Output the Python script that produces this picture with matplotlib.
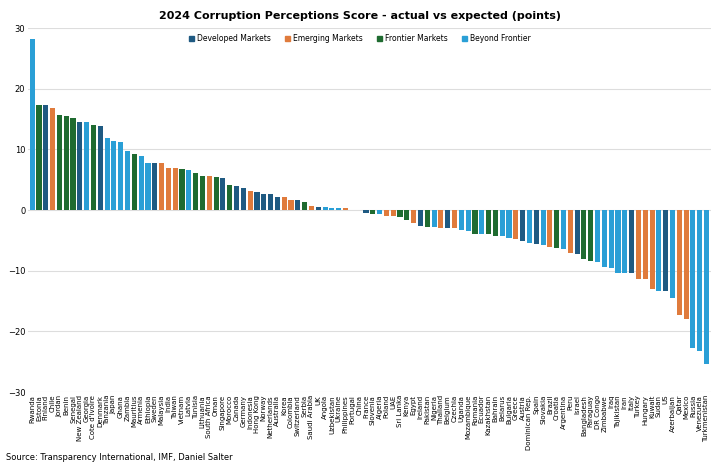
import matplotlib
matplotlib.use("Agg")
import matplotlib.pyplot as plt
from matplotlib.patches import Patch

countries = ["Rwanda","Estonia","Finland","Chile","Jordan","Benin","Senegal","New Zealand","Georgia","Cote d'Ivoire",
 "Denmark","Tanzania","Japan","Ghana","Zambia","Mauritius","Armenia","Ethiopia","Sweden","Malaysia",
 "India","Taiwan","Vietnam","Latvia","Tunisia","Lithuania","South Africa","Oman","Singapore","Morocco",
 "Canada","Germany","Indonesia","Hong Kong","Norway","Netherlands","Australia","Korea","Colombia","Switzerland",
 "Serbia","Saudi Arabia","UK","Angola","Uzbekistan","Ukraine","Philippines","Portugal","China","France",
 "Slovenia","Algeria","Poland","UAE","Sri Lanka","Kenya","Egypt","Ireland","Pakistan","Nigeria",
 "Thailand","Belgium","Czechia","Uganda","Mozambique","Romania","Ecuador","Kazakhstan","Bahrain","Belarus",
 "Bulgaria","Greece","Austria","Dominican Rep.","Spain","Slovakia","Brazil","Croatia","Argentina","Peru",
 "Israel","Bangladesh","Paraguay","DR Congo","Zimbabwe","Iraq","Tajikistan","Iran","Italy","Turkey",
 "Hungary","Kuwait","Sudan","US","Azerbaijan","Qatar","Mexico","Russia","Venezuela","Turkmenistan"]

values = [28.2,17.4,17.3,16.8,15.6,15.5,15.2,14.6,14.5,14.0,
 13.9,11.9,11.4,11.3,9.8,9.3,8.9,7.8,7.8,7.8,
 7.0,6.9,6.8,6.6,6.1,5.7,5.6,5.4,5.3,4.2,
 3.9,3.7,3.2,3.0,2.6,2.6,2.1,2.1,1.7,1.6,
 1.4,0.6,0.5,0.5,0.4,0.3,0.3,0.1,0.05,-0.55,
 -0.65,-0.65,-0.9,-1.0,-1.1,-1.6,-2.2,-2.6,-2.7,-2.7,
 -2.9,-2.9,-3.0,-3.2,-3.5,-3.9,-4.0,-4.0,-4.2,-4.3,
 -4.6,-4.8,-5.1,-5.4,-5.5,-5.8,-6.1,-6.3,-6.4,-7.1,
 -7.3,-8.0,-8.4,-8.6,-9.4,-9.5,-10.3,-10.4,-10.4,-11.3,
 -11.4,-13.0,-13.3,-13.4,-14.5,-17.3,-17.9,-22.7,-23.2,-25.3]

groups = list("BFDEFFFDBFDBBBBFBBDEEEFBFF"
              "EFDFDDEDDDDEEDFEDBBBEEE"
              "DFBEEFFEDFBEDEBBF"
              "BFFBBEDBDBEFBEDFFBB"
              "BBBDEEEBDBEEBBB")

group_names = {"D": "Developed Markets", "E": "Emerging Markets", "F": "Frontier Markets", "B": "Beyond Frontier"}
group_colors = {"D": "#1f5a82", "E": "#e07b3c", "F": "#1f6b30", "B": "#2a9fd6"}

fig = plt.figure(figsize=(7.2, 4.68), dpi=100)
ax = fig.add_axes([0.039, 0.162, 0.948, 0.778])
x = list(range(len(values)))
ax.bar(x, values, width=0.75, color=[group_colors[g] for g in groups], zorder=3)
ax.set_xlim(-0.6, len(values) - 0.4)
ax.set_ylim(-30, 30)
ax.set_yticks(range(-30, 31, 10))
ax.tick_params(axis="y", labelsize=6, length=0, pad=2)
ax.set_xticks(x)
ax.set_xticklabels(countries, rotation=90, fontsize=5, va="top")
ax.tick_params(axis="x", length=0, pad=2)
ax.grid(axis="y", color="#dddddd", linewidth=0.8, zorder=0)
for s in ax.spines.values():
    s.set_visible(False)

fig.text(0.5, 0.965, "2024 Corruption Perceptions Score - actual vs expected (points)",
         ha="center", va="center", fontsize=8, fontweight="bold")
handles = [Patch(color=group_colors[k], label=group_names[k]) for k in "DEFB"]
fig.legend(handles=handles, loc="center", bbox_to_anchor=(0.5, 0.918), ncol=4, frameon=False,
           fontsize=5.5, handlelength=0.7, handleheight=0.7, columnspacing=1.8, handletextpad=0.4)
fig.text(0.008, 0.012, "Source: Transparency International, IMF, Daniel Salter", fontsize=6, ha="left", va="bottom")
fig.savefig("out.png", dpi=100)
